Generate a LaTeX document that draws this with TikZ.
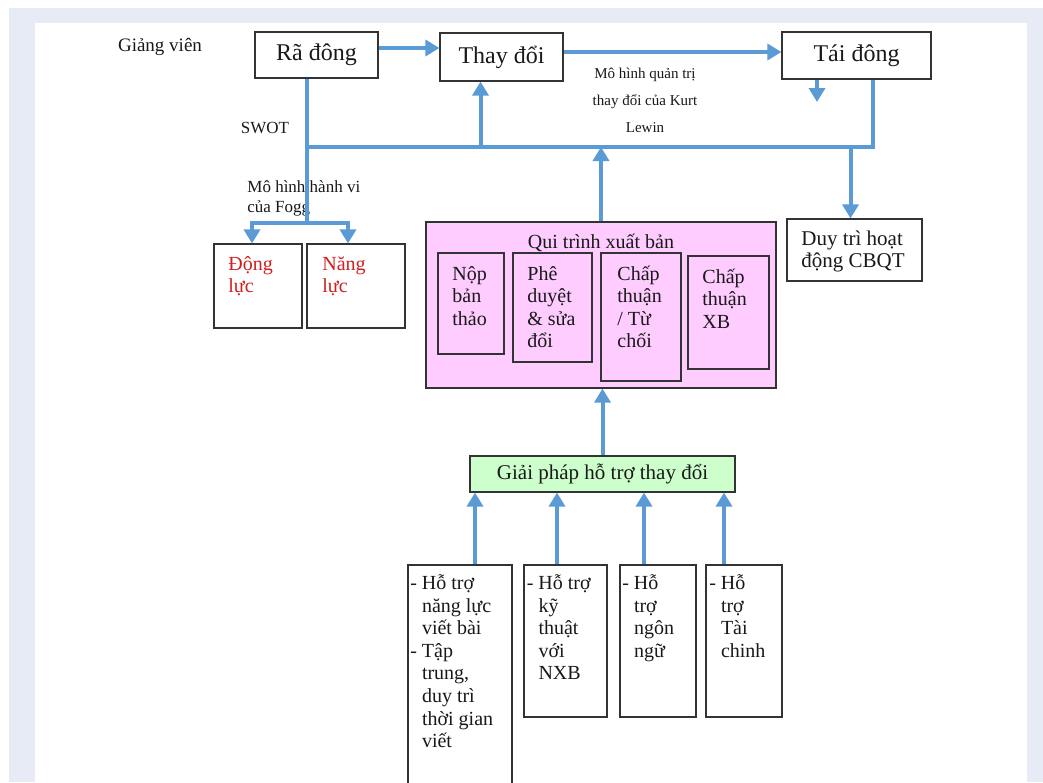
\documentclass[tikz,border=0pt]{standalone}
\usepackage{fontspec}
\setmainfont{Liberation Serif}
\usetikzlibrary{arrows.meta, fit}

\definecolor{linkblue}{RGB}{91,155,213}
\definecolor{panelbg}{RGB}{230,235,245}
\definecolor{pinkbox}{RGB}{255,204,255}
\definecolor{greenbox}{RGB}{204,255,204}
\definecolor{redtext}{RGB}{210,30,30}

\newcommand{\fs}[2]{\fontsize{#1}{#2}\selectfont}
\newcommand{\firstline}{\rule{0pt}{1em}}
\newcommand{\dash}{\makebox[5.8pt][l]{-}}
\newcommand{\ind}{\hspace*{5.8pt}}

\begin{document}
\begin{tikzpicture}[x=0.5pt, y=-0.5pt,
    box/.style={draw=black!80, line width=0.6pt, inner sep=0pt},
    stage/.style={box, font=\fs{12}{14}, text=black!90},
    link/.style={draw=linkblue, line width=2pt},
    arr/.style={link, -{Triangle[length=7pt, width=8pt]}},
    txt/.style={anchor=north west, inner sep=0pt, align=left, font=\fs{10}{11.3}, text=black!90}
  ]
  \useasboundingbox (0,0) rectangle (1043,782);
  \fill[panelbg] (9,8) rectangle (1043,782);
  \fill[white] (35,23) rectangle (1027,782);

  % Lewin: three stages
  \node[font=\fs{9.5}{11}, text=black!90] (giangvien) at (160,47) {Giảng viên};
  \node[stage, minimum width=61.5pt, minimum height=23pt] (radong) at (316.5,55) {Rã đông};
  \node[stage, minimum width=61.5pt, minimum height=24pt] (thaydoi) at (501.5,57) {Thay đổi};
  \node[stage, minimum width=74.5pt, minimum height=23.5pt] (taidong) at (856.5,55.5) {Tái đông};
  \node[align=center, font=\fs{7.5}{13.5}, text=black!90] (lewin) at (645,100)
    {Mô hình quản trị\\thay đổi của Kurt\\Lewin};

  \node[font=\fs{8.5}{10}, text=black!90] (swot) at (265,128) {SWOT};
  \node[txt, font=\fs{8.5}{9.8}] (fogglbl) at (247,175) {\firstline Mô hình hành vi\\của Fogg};

  % Fogg
  \node[box, fit={(214,244) (302,328)}] (dongluc) {};
  \node[box, fit={(307,244) (405,328)}] (nangluc) {};
  \node[txt, font=\fs{10}{11}, text=redtext] (dongluc-t) at (228,250) {\firstline Động\\lực};
  \node[txt, font=\fs{10}{11}, text=redtext] (nangluc-t) at (322,250) {\firstline Năng\\lực};

  \node[box, fit={(787,219) (922,281)}] (duytri) {};
  \node[txt, font=\fs{10.5}{11}] (duytri-t) at (801,224) {\firstline Duy trì hoạt\\động CBQT};

  % publishing process
  \node[box, fill=pinkbox, fit={(426,222) (776,388)}] (qui) {};
  \node[font=\fs{10}{12}, text=black!90] (quititle) at (601,243) {Qui trình xuất bản};
  \node[box, fill=pinkbox, fit={(438,253) (504,354)}] (nop) {};
  \node[box, fill=pinkbox, fit={(513,253) (592,362)}] (pheduyet) {};
  \node[box, fill=pinkbox, fit={(601,253) (681,381)}] (chapthuan) {};
  \node[box, fill=pinkbox, fit={(688,256) (769,369)}] (chapxb) {};
  \node[txt, font=\fs{10}{11.25}] (nop-t) at (452,260) {\firstline Nộp\\bản\\thảo};
  \node[txt, font=\fs{10}{11.25}] (pheduyet-t) at (527,260) {\firstline Phê\\duyệt\\\& sửa\\đổi};
  \node[txt, font=\fs{10}{11.25}] (chapthuan-t) at (617,260) {\firstline Chấp\\thuận\\/ Từ\\chối};
  \node[txt, font=\fs{10}{11.25}] (chapxb-t) at (702,263) {\firstline Chấp\\thuận\\XB};

  % support
  \node[box, fill=greenbox, minimum width=132.5pt, minimum height=18pt, font=\fs{10.5}{12}, text=black!90] (giaiphap) at (602.5,474) {Giải pháp hỗ trợ thay đổi};
  \node[box, fit={(408,565) (512,800)}] (hotro1) {};
  \node[box, fit={(524,565) (607,717)}] (hotro2) {};
  \node[box, fit={(620,565) (696,717)}] (hotro3) {};
  \node[box, fit={(706,565) (782,717)}] (hotro4) {};
  \node[txt] (hotro1-t) at (410,569) {\firstline\dash Hỗ trợ\\\ind năng lực\\\ind viết bài\\\dash Tập\\\ind trung,\\\ind duy trì\\\ind thời gian\\\ind viết};
  \node[txt] (hotro2-t) at (526.5,569) {\firstline\dash Hỗ trợ\\\ind kỹ\\\ind thuật\\\ind với\\\ind NXB};
  \node[txt] (hotro3-t) at (622,569) {\firstline\dash Hỗ\\\ind trợ\\\ind ngôn\\\ind ngữ};
  \node[txt] (hotro4-t) at (709,569) {\firstline\dash Hỗ\\\ind trợ\\\ind Tài\\\ind chinh};

  % connectors
  \coordinate (bus) at (307,147);
  \coordinate (busR) at (873,147);
  \coordinate (fogg) at (307,223);
  \coordinate (taiend) at (817,102);

  \draw[arr] ([yshift=3.5pt]radong.east) -- ([yshift=3.5pt]radong.east -| thaydoi.west);
  \draw[arr] ([yshift=2.5pt]thaydoi.east) -- ([yshift=2.5pt]thaydoi.east -| taidong.west);
  \draw[arr] (taidong.south -| taiend) -- (taiend);
  \draw[link] (radong.south -| fogg) -- (fogg);
  \draw[link] (taidong.south -| busR) -- (busR) -- (bus);
  \draw[arr] ([xshift=-10.5pt]thaydoi.south |- bus) -- ([xshift=-10.5pt]thaydoi.south);
  \draw[arr] (qui.north) -- (qui.north |- bus);
  \draw[arr] ([xshift=-2pt]duytri.north |- bus) -- ([xshift=-2pt]duytri.north);
  \draw[arr] (fogg) -| ([xshift=-3pt]dongluc.north);
  \draw[arr] (fogg) -| ([xshift=-4pt]nangluc.north);
  \draw[arr] (giaiphap.north) -- (giaiphap.north |- qui.south);
  \foreach \b/\s in {hotro1/7.5pt, hotro2/-4.25pt, hotro3/-7pt, hotro4/-10pt}
    \draw[arr] ([xshift=\s]\b.north) -- ([xshift=\s]\b.north |- giaiphap.south);
\end{tikzpicture}
\end{document}
